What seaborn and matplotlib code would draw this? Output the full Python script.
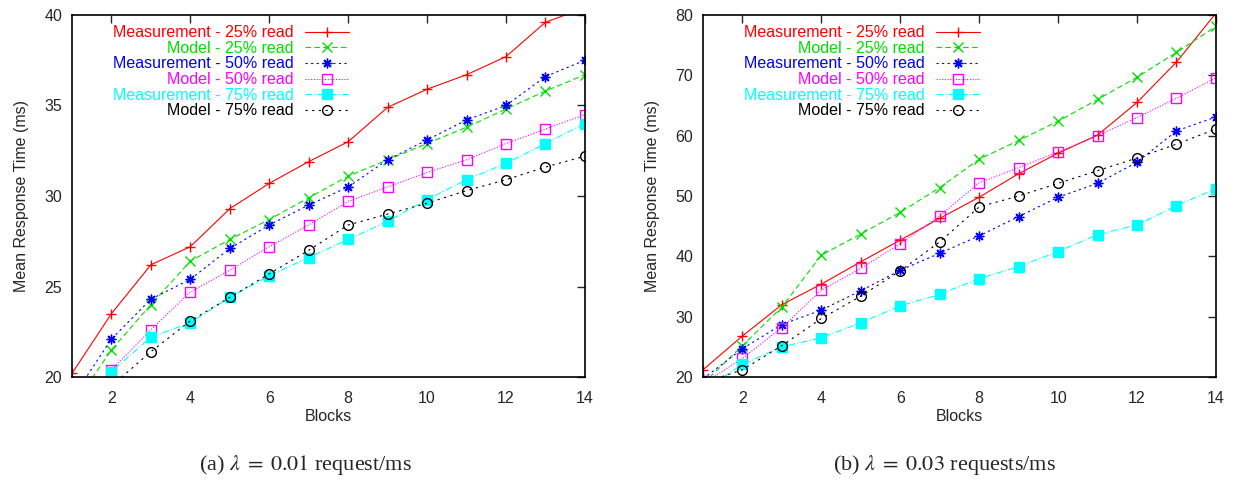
import numpy as np
import pandas as pd
import matplotlib
matplotlib.use('Agg')
import matplotlib.pyplot as plt
import seaborn as sns

sns.set_style('white')
plt.rcParams['font.family'] = ['Liberation Sans', 'DejaVu Sans']
plt.rcParams['mathtext.fontset'] = 'stix'

blocks = list(range(1, 15))

labels = ['Measurement - 25% read', 'Model - 25% read', 'Measurement - 50% read',
          'Model - 50% read', 'Measurement - 75% read', 'Model - 75% read']

# lambda = 0.01 request/ms
meas25_a = [20.2, 23.5, 26.2, 27.2, 29.3, 30.7, 31.9, 33.0, 34.9, 35.9, 36.7, 37.7, 39.6, 40.4]
model25_a = [18.3, 21.5, 24.0, 26.4, 27.6, 28.7, 29.9, 31.1, 32.0, 32.9, 33.8, 34.8, 35.8, 36.7]
meas50_a = [18.8, 22.1, 24.3, 25.4, 27.1, 28.4, 29.5, 30.5, 32.0, 33.1, 34.2, 35.0, 36.6, 37.5]
model50_a = [17.5, 20.4, 22.6, 24.7, 25.9, 27.2, 28.4, 29.7, 30.5, 31.3, 32.0, 32.9, 33.7, 34.5]
meas75_a = [18.0, 20.3, 22.2, 23.0, 24.4, 25.6, 26.6, 27.6, 28.6, 29.8, 30.9, 31.8, 32.9, 34.0]
model75_a = [17.0, 19.5, 21.4, 23.1, 24.4, 25.7, 27.0, 28.4, 29.0, 29.6, 30.3, 30.9, 31.6, 32.2]

# lambda = 0.03 requests/ms
meas25_b = [21.2, 26.8, 32.0, 35.4, 39.1, 42.7, 46.3, 49.8, 53.7, 57.1, 60.1, 65.5, 72.2, 80.3]
model25_b = [18.9, 25.2, 31.6, 40.2, 43.7, 47.3, 51.4, 56.1, 59.2, 62.4, 66.0, 69.7, 73.8, 78.1]
meas50_b = [19.7, 24.7, 28.7, 31.1, 34.3, 37.7, 40.5, 43.4, 46.6, 49.8, 52.1, 55.6, 60.8, 63.1]
model50_b = [18.9, 23.1, 28.2, 34.4, 38.0, 42.1, 46.7, 52.2, 54.7, 57.3, 60.0, 63.0, 66.2, 69.6]
meas75_b = [17.7, 22.1, 25.0, 26.5, 29.0, 31.8, 33.7, 36.3, 38.3, 40.8, 43.6, 45.2, 48.4, 51.2]
model75_b = [19.0, 21.2, 25.2, 29.7, 33.4, 37.6, 42.4, 48.2, 50.0, 52.1, 54.2, 56.3, 58.6, 61.1]

colors = ['#ff0000', '#00e000', '#0000ff', '#ff00ff', '#00ffff', '#000000']
markers = ['+', 'x', (8, 2, 0), 's', 's', 'o']
fills = [None, None, None, 'none', None, 'none']
lstyles = ['-', (0, (5, 3)), (0, (2, 3)), (0, (1, 1.5)), (0, (6, 2, 1, 2)), (0, (2, 4))]

fig = plt.figure(figsize=(12.39, 4.90), dpi=100)
ax1 = fig.add_axes([0.0581, 0.2306, 0.4140, 0.7388])
ax2 = fig.add_axes([0.5674, 0.2306, 0.4140, 0.7388])

panels = [
    (ax1, [meas25_a, model25_a, meas50_a, model50_a, meas75_a, model75_a], (20, 40), 5),
    (ax2, [meas25_b, model25_b, meas50_b, model50_b, meas75_b, model75_b], (20, 80), 10),
]

for ax, series, ylim, ystep in panels:
    for vals, lab, c, m, fc, ls in zip(series, labels, colors, markers, fills, lstyles):
        kw = dict(markerfacecolor=fc) if fc else dict(markerfacecolor=c)
        sns.lineplot(x=blocks, y=vals, ax=ax, color=c, marker=m, linestyle=ls, lw=0.8,
                     markersize=7, mec=c, mew=1.0, label=lab, **kw)
    ax.set_xlim(1, 14)
    ax.set_ylim(*ylim)
    ax.set_xticks(range(2, 15, 2))
    ax.set_yticks(np.arange(ylim[0], ylim[1] + 1, ystep))
    ax.tick_params(direction='in', length=6, width=1, top=True, right=True,
                   labelsize=11.5)
    ax.tick_params(axis='x', pad=10)
    ax.tick_params(axis='y', pad=7)
    for sp in ax.spines.values():
        sp.set_linewidth(1.2)
        sp.set_color('black')
    ax.set_xlabel('Blocks', fontsize=11.5, labelpad=2)
    ax.set_ylabel('Mean Response Time (ms)', fontsize=11.5, labelpad=11)
    leg = ax.legend(loc='upper left', bbox_to_anchor=(0.07, 0.985), frameon=False,
                    markerfirst=False, labelcolor='linecolor', fontsize=11.5,
                    handlelength=2.7, handletextpad=0.75, labelspacing=0.04,
                    borderpad=0.3, borderaxespad=0)

fig.text(306 / 1239, 1 - 465 / 490, r'(a) $\lambda\;=\;0.01$ request/ms', ha='center',
         va='center', fontsize=16, family='Liberation Serif')
fig.text(944 / 1239, 1 - 465 / 490, r'(b) $\lambda\;=\;0.03$ requests/ms', ha='center',
         va='center', fontsize=16, family='Liberation Serif')

fig.savefig('out.png', dpi=100)
